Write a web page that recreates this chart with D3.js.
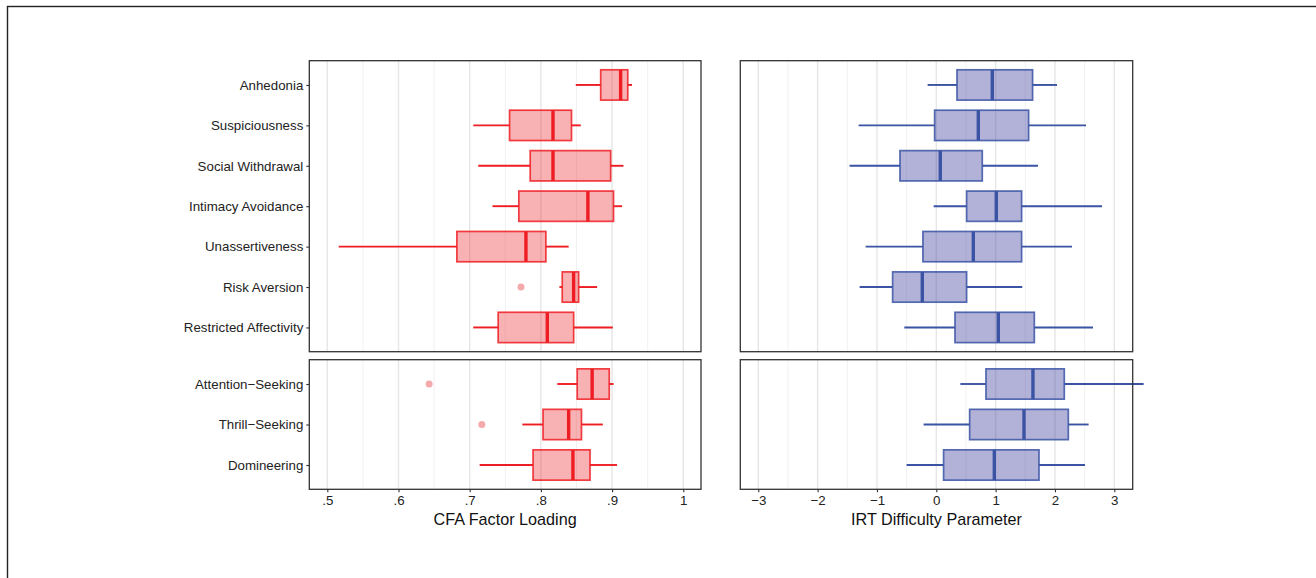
<!DOCTYPE html>
<html>
<head>
<meta charset="utf-8">
<script src="https://cdn.jsdelivr.net/npm/d3@7"></script>
<style>
  html, body { margin: 0; padding: 0; background: #fff; }
  svg { display: block; font-family: "Liberation Sans", Arial, sans-serif; }
</style>
</head>
<body>
<svg id="chart" width="1316" height="578"></svg>
<script>
// ---------------- data ----------------
const categoriesTop = ["Anhedonia", "Suspiciousness", "Social Withdrawal", "Intimacy Avoidance",
  "Unassertiveness", "Risk Aversion", "Restricted Affectivity"];
const categoriesBottom = ["Attention\u2212Seeking", "Thrill\u2212Seeking", "Domineering"];
const categories = categoriesTop.concat(categoriesBottom);

// CFA factor loadings (box-plot summaries, same order as categories)
const cfaLow  = [0.849, 0.705, 0.712, 0.732, 0.516, 0.826, 0.705, 0.823, 0.774, 0.714];
const cfaQ1   = [0.884, 0.756, 0.785, 0.769, 0.682, 0.830, 0.740, 0.851, 0.803, 0.789];
const cfaMed  = [0.912, 0.817, 0.817, 0.866, 0.779, 0.846, 0.809, 0.872, 0.839, 0.845];
const cfaQ3   = [0.922, 0.843, 0.898, 0.902, 0.807, 0.853, 0.846, 0.896, 0.857, 0.869];
const cfaHigh = [0.928, 0.856, 0.916, 0.914, 0.839, 0.879, 0.901, 0.902, 0.887, 0.907];
const cfaOutlierCats = ["Risk Aversion", "Attention\u2212Seeking", "Thrill\u2212Seeking"];
const cfaOutlierVals = [0.772, 0.643, 0.717];

// IRT difficulty parameters
const irtLow  = [-0.146, -1.309, -1.461, -0.045, -1.191, -1.292, -0.539, 0.405, -0.214, -0.500];
const irtQ1   = [0.349, -0.028, -0.612, 0.511, -0.225, -0.736, 0.315, 0.837, 0.562, 0.123];
const irtMed  = [0.944, 0.708, 0.067, 1.011, 0.624, -0.236, 1.045, 1.629, 1.478, 0.978];
const irtQ3   = [1.623, 1.556, 0.775, 1.438, 1.438, 0.511, 1.652, 2.157, 2.225, 1.731];
const irtHigh = [2.034, 2.523, 1.714, 2.793, 2.287, 1.449, 2.641, 3.494, 2.567, 2.506];

const cfaTicks = [0.5, 0.6, 0.7, 0.8, 0.9, 1.0];
const cfaTickLabels = [".5", ".6", ".7", ".8", ".9", "1"];
const irtTicks = [-3, -2, -1, 0, 1, 2, 3];
const irtTickLabels = ["\u22123", "\u22122", "\u22121", "0", "1", "2", "3"];
const cfaTitle = "CFA Factor Loading";
const irtTitle = "IRT Difficulty Parameter";

// ---------------- layout ----------------
const svg = d3.select("#chart");

// outer frame (cropped figure border)
svg.append("rect").attr("x", 7.5).attr("y", 6.5).attr("width", 1400).attr("height", 700)
  .attr("fill", "none").attr("stroke", "#222").attr("stroke-width", 1.4);

const topY = [60.7, 351.7], botY = [359.7, 489.3];
const leftX = [309.3, 701], rightX = [740.3, 1132.7];

const xCfa = d3.scaleLinear().domain([0.4747, 1.0249]).range(leftX);
const xIrt = d3.scaleLinear().domain([-3.303, 3.31]).range(rightX);
const yTop = d3.scalePoint().domain(categoriesTop).range(topY).padding(0.6);
const yBot = d3.scalePoint().domain(categoriesBottom).range(botY).padding(0.6);
const yOf = c => categoriesTop.includes(c) ? yTop(c) : yBot(c);
const boxH = yTop.step() * 0.75;

const styles = {
  cfa: { stroke: "#ee1d23", fill: "#ee1d23", fillOpacity: 0.34, outlier: "#f29a9e" },
  irt: { stroke: "#3a53a4", fill: "#3f3c9c", fillOpacity: 0.4, outlier: "#9fa3d0" }
};

function panel(x, yr, ticks) {
  const g = svg.append("g");
  const minor = [];
  const half = (ticks[1] - ticks[0]) / 2;
  for (let i = 0; i < ticks.length - 1; i++) minor.push((ticks[i] + ticks[i + 1]) / 2);
  const d0 = x.domain();
  if (ticks[0] - half > d0[0]) minor.unshift(ticks[0] - half);
  if (ticks[ticks.length - 1] + half < d0[1]) minor.push(ticks[ticks.length - 1] + half);
  g.selectAll(".minor").data(minor).enter().append("line")
    .attr("x1", d => x(d)).attr("x2", d => x(d)).attr("y1", yr[0]).attr("y2", yr[1])
    .attr("stroke", "#ededed").attr("stroke-width", 0.8);
  g.selectAll(".major").data(ticks).enter().append("line")
    .attr("x1", d => x(d)).attr("x2", d => x(d)).attr("y1", yr[0]).attr("y2", yr[1])
    .attr("stroke", "#e6e6e6").attr("stroke-width", 1.4);
  return g;
}

function drawBoxes(g, x, cats, low, q1, med, q3, high, st, outCats, outVals) {
  cats.forEach(c => {
    const i = categories.indexOf(c);
    const y = yOf(c);
    g.append("line").attr("x1", x(low[i])).attr("x2", x(q1[i])).attr("y1", y).attr("y2", y)
      .attr("stroke", st.stroke).attr("stroke-width", 1.9);
    g.append("line").attr("x1", x(q3[i])).attr("x2", x(high[i])).attr("y1", y).attr("y2", y)
      .attr("stroke", st.stroke).attr("stroke-width", 1.9);
    g.append("rect").attr("x", x(q1[i])).attr("y", y - boxH / 2)
      .attr("width", x(q3[i]) - x(q1[i])).attr("height", boxH)
      .attr("fill", st.fill).attr("fill-opacity", st.fillOpacity)
      .attr("stroke", st.stroke).attr("stroke-opacity", 0.85).attr("stroke-width", 1.7);
    g.append("line").attr("x1", x(med[i])).attr("x2", x(med[i]))
      .attr("y1", y - boxH / 2).attr("y2", y + boxH / 2)
      .attr("stroke", st.stroke).attr("stroke-width", 3.4);
  });
  if (outCats) {
    outCats.forEach((c, k) => {
      if (!cats.includes(c)) return;
      g.append("circle").attr("cx", x(outVals[k])).attr("cy", yOf(c)).attr("r", 3.5)
        .attr("fill", st.outlier).attr("fill-opacity", 0.85);
    });
  }
}

function border(xr, yr) {
  svg.append("rect").attr("x", xr[0]).attr("y", yr[0]).attr("width", xr[1] - xr[0]).attr("height", yr[1] - yr[0])
    .attr("fill", "none").attr("stroke", "#333").attr("stroke-width", 1.3);
}

const gL1 = panel(xCfa, topY, cfaTicks);
const gL2 = panel(xCfa, botY, cfaTicks);
const gR1 = panel(xIrt, topY, irtTicks);
const gR2 = panel(xIrt, botY, irtTicks);

drawBoxes(gL1, xCfa, categoriesTop, cfaLow, cfaQ1, cfaMed, cfaQ3, cfaHigh, styles.cfa, cfaOutlierCats, cfaOutlierVals);
drawBoxes(gL2, xCfa, categoriesBottom, cfaLow, cfaQ1, cfaMed, cfaQ3, cfaHigh, styles.cfa, cfaOutlierCats, cfaOutlierVals);

border(leftX, topY); border(leftX, botY); border(rightX, topY); border(rightX, botY);

drawBoxes(gR1, xIrt, categoriesTop, irtLow, irtQ1, irtMed, irtQ3, irtHigh, styles.irt);
drawBoxes(gR2, xIrt, categoriesBottom, irtLow, irtQ1, irtMed, irtQ3, irtHigh, styles.irt);

function yAxis(sc) {
  const ax = d3.axisLeft(sc).tickSize(3).tickPadding(3);
  const g = svg.append("g").attr("transform", `translate(${leftX[0]},0)`).call(ax);
  g.select(".domain").remove();
  g.selectAll(".tick line").attr("stroke", "#333").attr("stroke-width", 1.1);
  g.selectAll(".tick text").attr("fill", "#222").style("font-size", "13.3px")
    .style("font-family", "'Liberation Sans', Arial, sans-serif");
}
yAxis(yTop); yAxis(yBot);

function xAxis(sc, ticks, labels, xr, title) {
  const ax = d3.axisBottom(sc).tickValues(ticks).tickFormat((d, i) => labels[i]).tickSize(3).tickPadding(3);
  const g = svg.append("g").attr("transform", `translate(0,${botY[1]})`).call(ax);
  g.select(".domain").remove();
  g.selectAll(".tick line").attr("stroke", "#333").attr("stroke-width", 1.1);
  g.selectAll(".tick text").attr("fill", "#222").style("font-size", "13.3px")
    .style("font-family", "'Liberation Sans', Arial, sans-serif");
  svg.append("text").attr("x", (xr[0] + xr[1]) / 2).attr("y", 525)
    .attr("text-anchor", "middle").attr("fill", "#111").style("font-size", "16.2px")
    .text(title);
}
xAxis(xCfa, cfaTicks, cfaTickLabels, leftX, cfaTitle);
xAxis(xIrt, irtTicks, irtTickLabels, rightX, irtTitle);
</script>
</body>
</html>
